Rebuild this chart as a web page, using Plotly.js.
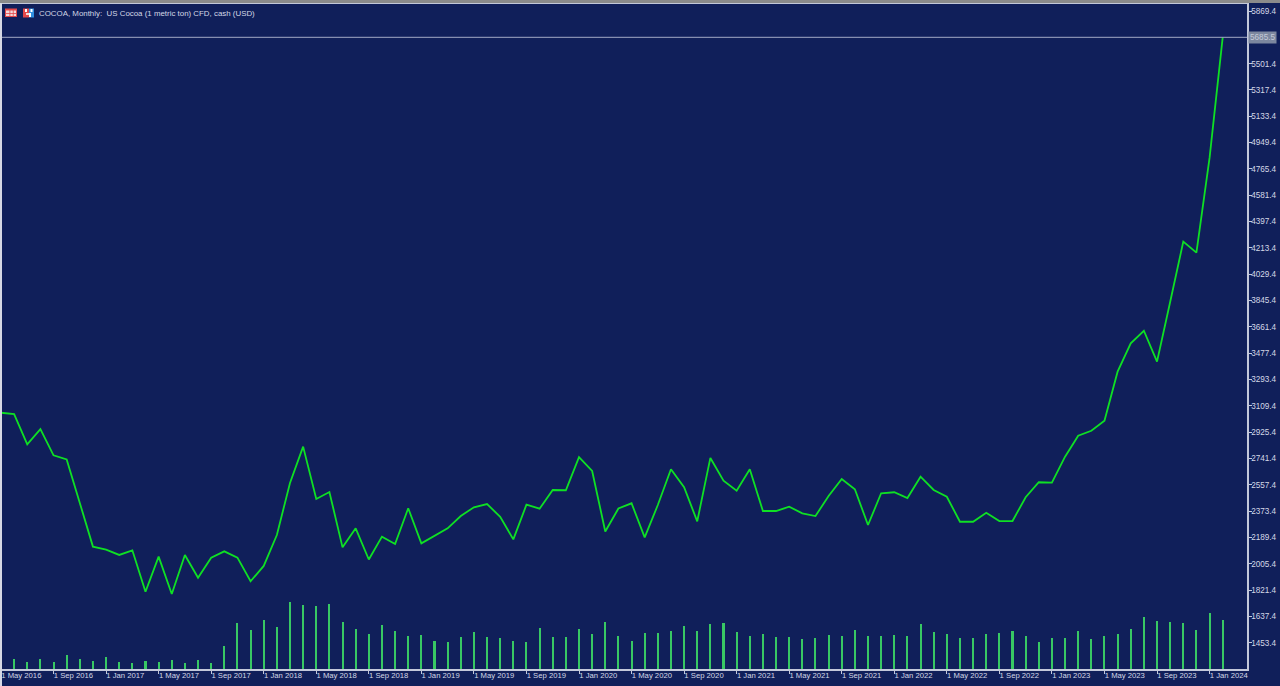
<!DOCTYPE html>
<html>
<head>
<meta charset="utf-8">
<script src="https://cdn.plot.ly/plotly-3.0.1.min.js"></script>
<style>html,body{margin:0;padding:0;background:#101f5a;overflow:hidden}#chart{width:1280px;height:686px}</style>
</head>
<body>
<div id="chart"></div>
<script>
const months = [
"1 May 2016","1 Jun 2016","1 Jul 2016","1 Aug 2016","1 Sep 2016","1 Oct 2016","1 Nov 2016","1 Dec 2016",
"1 Jan 2017","1 Feb 2017","1 Mar 2017","1 Apr 2017","1 May 2017","1 Jun 2017","1 Jul 2017","1 Aug 2017",
"1 Sep 2017","1 Oct 2017","1 Nov 2017","1 Dec 2017","1 Jan 2018","1 Feb 2018","1 Mar 2018","1 Apr 2018",
"1 May 2018","1 Jun 2018","1 Jul 2018","1 Aug 2018","1 Sep 2018","1 Oct 2018","1 Nov 2018","1 Dec 2018",
"1 Jan 2019","1 Feb 2019","1 Mar 2019","1 Apr 2019","1 May 2019","1 Jun 2019","1 Jul 2019","1 Aug 2019",
"1 Sep 2019","1 Oct 2019","1 Nov 2019","1 Dec 2019","1 Jan 2020","1 Feb 2020","1 Mar 2020","1 Apr 2020",
"1 May 2020","1 Jun 2020","1 Jul 2020","1 Aug 2020","1 Sep 2020","1 Oct 2020","1 Nov 2020","1 Dec 2020",
"1 Jan 2021","1 Feb 2021","1 Mar 2021","1 Apr 2021","1 May 2021","1 Jun 2021","1 Jul 2021","1 Aug 2021",
"1 Sep 2021","1 Oct 2021","1 Nov 2021","1 Dec 2021","1 Jan 2022","1 Feb 2022","1 Mar 2022","1 Apr 2022",
"1 May 2022","1 Jun 2022","1 Jul 2022","1 Aug 2022","1 Sep 2022","1 Oct 2022","1 Nov 2022","1 Dec 2022",
"1 Jan 2023","1 Feb 2023","1 Mar 2023","1 Apr 2023","1 May 2023","1 Jun 2023","1 Jul 2023","1 Aug 2023",
"1 Sep 2023","1 Oct 2023","1 Nov 2023","1 Dec 2023","1 Jan 2024","1 Feb 2024"];
const closePrice = [
3061,3052,2840,2947,2763,2735,2430,2125,2104,2067,2099,1810,2055,1794,2067,1908,
2048,2092,2048,1883,1990,2206,2570,2824,2458,2507,2120,2253,2035,2195,2143,2393,
2148,2199,2253,2339,2400,2423,2334,2176,2418,2390,2521,2519,2750,2654,2231,2392,
2428,2190,2416,2666,2540,2302,2745,2586,2516,2666,2374,2374,2404,2358,2339,2479,
2598,2526,2276,2498,2505,2465,2614,2521,2474,2299,2299,2362,2304,2304,2470,2575,
2572,2754,2900,2935,3005,3348,3546,3634,3418,3835,4257,4180,4842,5685.5];
const tickVolume = [
100,102,75,105,75,138,98,85,125,75,65,78,75,95,58,92,
65,235,465,392,492,418,675,642,632,652,468,402,352,442,385,335,
345,285,272,322,375,322,312,285,272,408,322,322,402,352,468,335,
285,362,362,385,435,385,452,458,375,335,352,318,322,302,312,345,
335,395,335,328,345,335,452,372,352,312,312,352,362,385,335,272,
312,312,385,302,335,352,402,518,485,475,458,395,558,492];
const priceTicks = [5869.4,5501.4,5317.4,5133.4,4949.4,4765.4,4581.4,4397.4,4213.4,4029.4,3845.4,3661.4,3477.4,3293.4,3109.4,2925.4,2741.4,2557.4,2373.4,2189.4,2005.4,1821.4,1637.4,1453.4];
const lastPrice = 5685.5;
const chartTitle = "COCOA, Monthly:  US Cocoa (1 metric ton) CFD, cash (USD)";

const BG = '#101f5a', AX = '#c3c8da', TXT = '#d4d8e6';
const FONT = '"Liberation Sans",sans-serif';
const W = 1280, H = 686, L = 0, R = 1247, T = 4, B = 669;
const px = v => (v - L) / (R - L), py = v => (B - v) / (B - T);
function box(x0, y0, x1, y1, c) {
  return {type:'rect', xref:'paper', yref:'paper', x0:px(x0), x1:px(x1), y0:py(y1), y1:py(y0), fillcolor:c, line:{width:0}, layer:'above'};
}
const iconShapes = [
  box(5,8.5,17,17,'#e2484a'), box(6,10.5,16,16,'#f3d9d9'),
  box(9.5,9,10.3,17,'#e2484a'), box(12.8,9,13.6,17,'#e2484a'), box(5,13,17,13.8,'#e2484a'),
  box(23,8.5,29,17.5,'#e2484a'), box(29,8.5,34,17.5,'#2f8fe0'),
  box(25,9,27,12,'#ffffff'), box(30.5,9,32.5,12,'#ffffff'), box(29,13,31,17,'#ffffff'), box(26,13,29,15,'#f3d9d9')
];
const traces = [
  {type:'bar', x:months, y:tickVolume, yaxis:'y2', width:0.156, marker:{color:'#38c864', line:{width:0}}, hoverinfo:'x+y'},
  {type:'scatter', mode:'lines', x:months, y:closePrice, line:{color:'#0fe024', width:1.8}, hoverinfo:'x+y'}
];
const layout = {
  width:W, height:H, paper_bgcolor:BG, plot_bgcolor:BG, showlegend:false,
  margin:{l:L, r:W-R, t:T, b:H-B, pad:0},
  font:{family:FONT, color:TXT, size:8},
  title:{text:chartTitle, x:39/W, xref:'container', xanchor:'left', y:1-13/H, yref:'container', yanchor:'middle', font:{family:FONT, size:7.9, color:TXT}},
  xaxis:{type:'category', categoryorder:'array', categoryarray:months, range:[-0.075,94.85],
    tickmode:'array', tickvals:months.filter((m,i)=>i%4===0), ticktext:months.filter((m,i)=>i%4===0),
    ticks:'outside', ticklen:3, tickcolor:AX, tickwidth:1, showgrid:false, zeroline:false,
    showline:true, linecolor:AX, linewidth:1.5, mirror:true, ticklabelposition:'outside right', ticklabeloverflow:'allow', tickangle:0,
    ticklabelstandoff:-2, ticklabelshift:-1, tickfont:{family:FONT, size:7.7, color:TXT}, automargin:false},
  yaxis:{side:'right', range:[1269.6,5918.3], tickmode:'array', tickvals:priceTicks, ticktext:priceTicks.map(v=>v.toFixed(1)),
    ticks:'outside', ticklen:3, tickcolor:AX, tickwidth:1, showgrid:false, zeroline:false, ticklabelstandoff:-2, ticklabeloverflow:'allow',
    showline:true, linecolor:AX, linewidth:1.5, mirror:true, tickfont:{family:FONT, size:8.2, color:TXT}, automargin:false},
  yaxis2:{overlaying:'y', side:'left', range:[0,6650], visible:false, fixedrange:true},
  bargap:0,
  shapes:[
    {type:'line', xref:'paper', x0:0, x1:1, yref:'y', y0:lastPrice, y1:lastPrice, line:{color:'#a3aac6', width:1}},
    box(0,0,1280,3,'#8b8b8b'), box(0,3,2,686,'#d6d8e4')
  ].concat(iconShapes),
  annotations:[{xref:'paper', x:1, xanchor:'left', xshift:1, yref:'y', y:lastPrice, yanchor:'middle', text:lastPrice.toFixed(1), showarrow:false,
    bgcolor:'#7c879f', font:{family:FONT, size:8.2, color:'#c4cad8'}, borderpad:1}]
};
Plotly.newPlot('chart', traces, layout, {displayModeBar:false, staticPlot:true});
</script>
</body>
</html>
